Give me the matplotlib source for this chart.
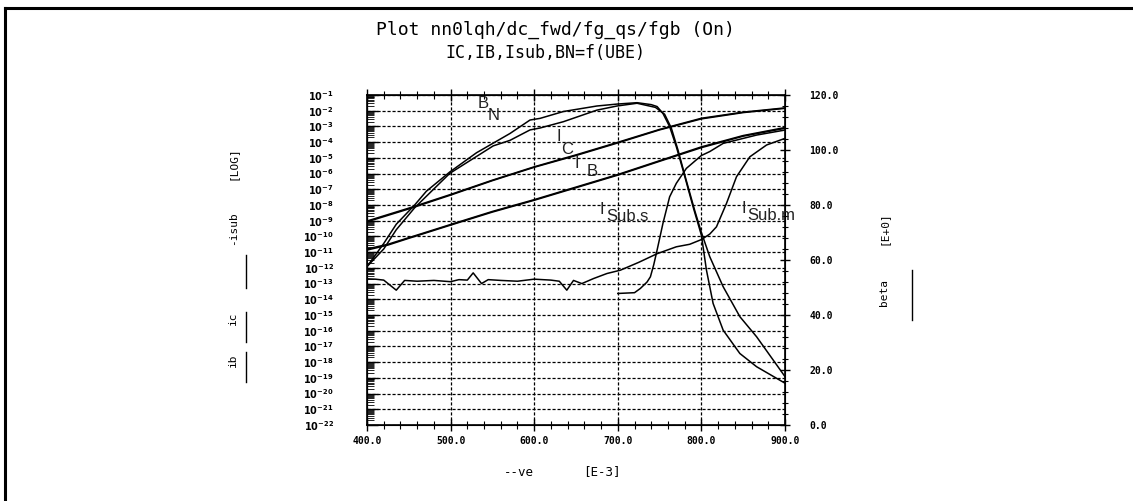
import matplotlib
matplotlib.use("Agg")
import matplotlib.pyplot as plt
import numpy as np
from matplotlib.ticker import FixedLocator, MultipleLocator
from matplotlib.lines import Line2D

W, H = 1133, 501

# ---------------- data ----------------
# collector current, log10(A) vs VBE [mV]
ic_v = [400, 450, 500, 550, 600, 650, 700, 750, 800, 850, 900]
ic_meas = [-9.07, -8.25, -7.37, -6.45, -5.60, -4.85, -4.05, -3.22, -2.52, -2.12, -1.85]
ic_sim = [-9.02, -8.20, -7.33, -6.42, -5.57, -4.81, -4.01, -3.19, -2.48, -2.09, -1.82]

# base current
ib_v = [400, 425, 450, 500, 550, 600, 650, 700, 750, 800, 850, 900]
ib_meas = [-10.87, -10.55, -10.12, -9.28, -8.45, -7.70, -6.90, -6.10, -5.22, -4.35, -3.62, -3.12]
ib_sim = [-10.80, -10.50, -10.08, -9.24, -8.41, -7.66, -6.86, -6.06, -5.18, -4.30, -3.58, -3.07]

# substrate current, simulated (Sub.s)
isubs_v = [700, 720, 727, 735, 739, 743, 747, 754, 762, 770, 782, 800, 810, 826, 866, 900]
isubs = [-13.63, -13.58, -13.31, -12.9, -12.57, -11.8, -10.87, -9.17, -7.48, -6.62, -5.67,
         -4.85, -4.6, -4.08, -3.55, -3.23]

# substrate current, measured (Sub.m)
isubm_v = [400, 410, 420, 435, 445, 460, 480, 500, 510, 520, 527, 537, 545, 560, 580, 600,
           620, 630, 639, 647, 657, 671, 687, 703, 725, 747, 770, 786, 800, 810, 818, 830,
           842, 858, 878, 900]
isubm = [-12.70, -12.72, -12.78, -13.42, -12.80, -12.85, -12.80, -12.88, -12.75, -12.78,
         -12.32, -13.00, -12.75, -12.80, -12.85, -12.72, -12.78, -12.85, -13.42, -12.80,
         -13.00, -12.68, -12.36, -12.15, -11.65, -11.10, -10.66, -10.50, -10.20, -9.85,
         -9.39, -7.90, -6.20, -4.93, -4.18, -3.76]

# current gain BN (right axis)
bn1_v = [400, 420, 435, 457, 471, 499, 531, 551, 571, 595, 607, 635, 675, 699, 723, 740,
         747, 754, 762, 770, 778, 790, 800, 806, 814, 826, 846, 866, 900]
bn1 = [57.6, 66, 73, 80, 85, 92, 99, 102.5, 106, 110.9, 111.5, 114, 116, 116.7, 117.2,
       116.5, 115.8, 113.3, 108.5, 101.2, 92.7, 79.4, 69, 56.4, 44.2, 34.5, 26, 21.2, 15.2]
bn2_v = [400, 420, 435, 457, 499, 551, 571, 595, 607, 635, 675, 699, 723, 745, 756, 764,
         772, 780, 792, 800, 810, 826, 846, 866, 900]
bn2 = [57.6, 64, 71, 79, 91.5, 101.5, 103.5, 107.3, 108, 110.3, 114.5, 116, 117, 115.5,
       113, 108, 100, 91, 78, 70, 61.2, 50.3, 39.4, 32.1, 17.6]

x_ticks = [400, 500, 600, 700, 800, 900]
x_labels = ["400.0", "500.0", "600.0", "700.0", "800.0", "900.0"]
y_exps = list(range(1, 23))
beta_ticks = [0, 20, 40, 60, 80, 100, 120]
beta_labels = ["0.0", "20.0", "40.0", "60.0", "80.0", "100.0", "120.0"]

title1 = "Plot nn0lqh/dc_fwd/fg_qs/fgb (On)"
title2 = "IC,IB,Isub,BN=f(UBE)"

# ---------------- figure ----------------
fig = plt.figure(figsize=(W / 100, H / 100), dpi=100)
fig.patch.set_facecolor("white")


def fx(x):
    return x / W


def fy(y):
    return 1 - y / H


ax = fig.add_axes([fx(367), fy(425), (785 - 367) / W, (425 - 95) / H])
ax.set_xlim(400, 900)
ax.set_yscale("log")
ax.set_ylim(1e-22, 1e-1)

mono = "DejaVu Sans Mono"
lw = 1.1
ax.plot(ic_v, 10.0 ** np.array(ic_meas), color="black", lw=lw)
ax.plot(ic_v, 10.0 ** np.array(ic_sim), color="black", lw=lw)
ax.plot(ib_v, 10.0 ** np.array(ib_meas), color="black", lw=lw)
ax.plot(ib_v, 10.0 ** np.array(ib_sim), color="black", lw=lw)
ax.plot(isubs_v, 10.0 ** np.array(isubs), color="black", lw=lw)
ax.plot(isubm_v, 10.0 ** np.array(isubm), color="black", lw=lw)

# y axis (log)
ax.yaxis.set_major_locator(FixedLocator([10.0 ** -k for k in y_exps]))
ax.set_yticklabels([rf"$\mathbf{{10^{{-{k}}}}}$" for k in y_exps])
ax.yaxis.set_minor_locator(FixedLocator([m * 10.0 ** e for e in range(-22, -1) for m in range(2, 10)]))
ax.yaxis.set_minor_formatter(plt.NullFormatter())
ax.tick_params(axis="y", which="major", direction="in", length=8, width=1, pad=24,
               labelsize=7, left=True, right=False)
ax.tick_params(axis="y", which="minor", direction="in", length=5, width=0.6, left=True, right=False)

# x axis
ax.set_xticks(x_ticks)
ax.set_xticklabels(x_labels, fontfamily=mono, fontweight="bold")
ax.xaxis.set_minor_locator(MultipleLocator(20))
ax.tick_params(axis="x", which="major", direction="inout", length=8, width=1, pad=4,
               labelsize=7, top=True, bottom=True)
ax.tick_params(axis="x", which="minor", direction="inout", length=6, width=0.8,
               top=True, bottom=True)

ax.grid(True, which="major", axis="both", color="black", lw=0.9, ls=(0, (2.5, 1.5)))
for s in ax.spines.values():
    s.set_linewidth(1.2)

# right axis (beta)
ax2 = ax.twinx()
ax2.set_ylim(0, 120)
ax2.plot(bn1_v, bn1, color="black", lw=lw)
ax2.plot(bn2_v, bn2, color="black", lw=lw)
ax2.set_yticks(beta_ticks)
ax2.set_yticklabels(beta_labels, fontfamily=mono, fontweight="bold")
ax2.yaxis.set_minor_locator(MultipleLocator(4))
ax2.tick_params(axis="y", which="major", direction="inout", length=7, width=1, pad=14, labelsize=7)
ax2.tick_params(axis="y", which="minor", direction="inout", length=5, width=0.8)
ax2.set_xlim(400, 900)

# curve labels
lab = dict(fontfamily="Liberation Sans", fontsize=12, color="#222222", va="center")
fig.text(fx(483), fy(103), "B", ha="center", **lab)
fig.text(fx(494), fy(115), "N", ha="center", **lab)
fig.text(fx(558.5), fy(136), "I", ha="center", **lab)
fig.text(fx(567.5), fy(149), "C", ha="center", **lab)
fig.text(fx(576.5), fy(163.5), "I", ha="center", **lab)
fig.text(fx(592.5), fy(171), "B", ha="center", **lab)
fig.text(fx(601.5), fy(209.5), "I", ha="center", **lab)
fig.text(fx(606), fy(216.5), "Sub.s", ha="left", **lab)
fig.text(fx(743.5), fy(209), "I", ha="center", **lab)
fig.text(fx(747), fy(215), "Sub.m", ha="left", **lab)

# titles
fig.text(fx(555), fy(30), title1, ha="center", va="center", fontfamily=mono, fontsize=13)
fig.text(fx(545), fy(53), title2, ha="center", va="center", fontfamily=mono, fontsize=12)

# axis labels
al = dict(fontfamily=mono, fontsize=8, rotation=90, ha="center", va="center")
fig.text(fx(233), fy(163), "[LOG]", **al)
fig.text(fx(233), fy(228), "-isub", **al)
fig.text(fx(233), fy(318), "ic", **al)
fig.text(fx(233), fy(360), "ib", **al)
fig.text(fx(884), fy(228), "[E+0]", **al)
fig.text(fx(884), fy(292), "beta", **al)
fig.text(fx(519), fy(472), "--ve", ha="center", va="center", fontfamily=mono, fontsize=9)
fig.text(fx(602), fy(472), "[E-3]", ha="center", va="center", fontfamily=mono, fontsize=9)

# legend bars beside axis labels
for (y0, y1) in [(255, 288), (312, 342), (352, 382)]:
    fig.add_artist(Line2D([fx(246), fx(246)], [fy(y0), fy(y1)], color="black", lw=1,
                          transform=fig.transFigure))
fig.add_artist(Line2D([fx(912), fx(912)], [fy(270), fy(320)], color="black", lw=1,
                      transform=fig.transFigure))

# outer frame (top and left)
fig.add_artist(Line2D([fx(4.5), fx(W)], [fy(8), fy(8)], color="black", lw=2.2,
                      transform=fig.transFigure))
fig.add_artist(Line2D([fx(4.5), fx(4.5)], [fy(8), fy(H)], color="black", lw=2.2,
                      transform=fig.transFigure))

fig.savefig("out.png", dpi=100)
